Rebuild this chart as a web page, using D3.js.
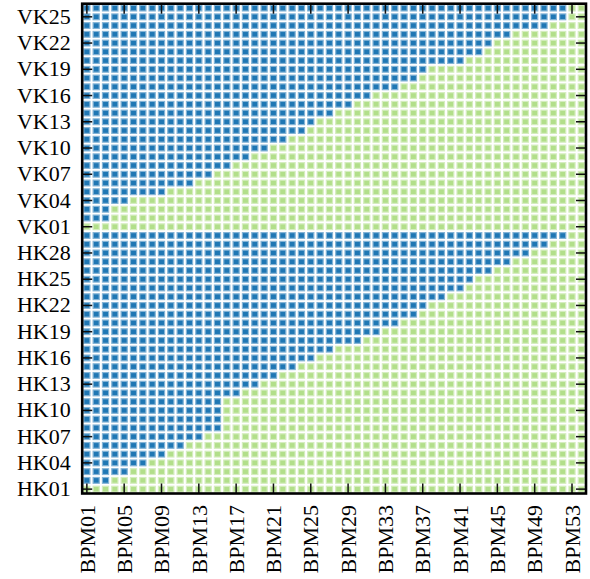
<!DOCTYPE html>
<html>
<head>
<meta charset="utf-8">
<script src="https://cdn.jsdelivr.net/npm/d3@7"></script>
<style>
  html, body { margin: 0; padding: 0; background: #fff; }
  svg { display: block; }
  text { font-family: "Liberation Serif", "Times New Roman", serif; }
</style>
</head>
<body>
<svg id="chart" width="590" height="579"></svg>
<script>
// BPM columns, BPM01 .. BPM54
const bpms = d3.range(1, 55).map(i => "BPM" + String(i).padStart(2, "0"));
// Horizontal and vertical correctors (rows, bottom to top)
const hCorrectors = d3.range(1, 31).map(i => "HK" + String(i).padStart(2, "0"));
const vCorrectors = d3.range(1, 27).map(i => "VK" + String(i).padStart(2, "0"));

// Number of BPMs (counted from BPM01) with zero response for each corrector
const hkZeroBpms = [0, 3, 5, 7, 9, 11, 13, 15, 15, 15,
                    15, 17, 19, 21, 23, 25, 27, 30, 32, 34,
                    36, 37, 39, 41, 42, 44, 46, 48, 50, 52];
const vkZeroBpms = [0, 3, 3, 5, 9, 12, 14, 16, 18, 20,
                    22, 24, 25, 27, 29, 31, 34, 36, 37, 41,
                    43, 44, 46, 50, 52, 52];

// Tick labels
const xTickLabels = bpms.filter((d, i) => i % 4 === 0);
const correctors = hCorrectors.concat(vCorrectors);
const yTickLabels = correctors.filter((d, i) => i % 3 === 0);

const colorZero = "#1f77b4";
const colorResp = "#b2df8a";

const svg = d3.select("#chart");
const plotLeft = 82.2, plotRight = 586, plotTop = 3.7, plotBottom = 493.5;
const tickLen = 10;

const x = d3.scaleBand().domain(bpms).range([plotLeft, plotRight]).padding(0);
const y = d3.scaleBand().domain(correctors).range([plotBottom, plotTop]).padding(0);

const zeroCount = new Map();
hCorrectors.forEach((k, i) => zeroCount.set(k, hkZeroBpms[i]));
vCorrectors.forEach((k, i) => zeroCount.set(k, vkZeroBpms[i]));

const cells = [];
correctors.forEach(k => {
  bpms.forEach((b, j) => {
    cells.push({ k, b, zero: j < zeroCount.get(k) });
  });
});

const bw = x.bandwidth(), bh = y.bandwidth();
const insetX = 1.6, insetY = 1.5;

svg.append("g")
  .selectAll("rect")
  .data(cells)
  .join("rect")
  .attr("x", d => x(d.b) + insetX)
  .attr("y", d => y(d.k) + insetY)
  .attr("width", bw - 2 * insetX)
  .attr("height", bh - 2 * insetY)
  .attr("fill", d => d.zero ? colorZero : colorResp)
  .attr("stroke", d => d3.interpolateRgb(d.zero ? colorZero : colorResp, "#ffffff")(0.45))
  .attr("stroke-width", 1.2);

// Axes with inward ticks on all four sides
const styleAxis = g => {
  g.select(".domain").remove();
  g.selectAll(".tick line").attr("stroke", "#111").attr("stroke-width", 1.5);
  g.selectAll(".tick text").attr("fill", "#000").style("font-size", "22px")
    .style("font-family", "'Liberation Serif', 'Times New Roman', serif");
};

const gBottom = svg.append("g")
  .attr("transform", `translate(0,${plotBottom})`)
  .call(d3.axisBottom(x).tickValues(xTickLabels).tickSizeInner(-tickLen).tickSizeOuter(0).tickPadding(11.5))
  .call(styleAxis);
gBottom.selectAll(".tick text")
  .attr("transform", "rotate(-90)")
  .attr("text-anchor", "end")
  .attr("x", -11.5)
  .attr("y", 0)
  .attr("dy", "0.35em");

svg.append("g")
  .attr("transform", `translate(0,${plotTop})`)
  .call(d3.axisTop(x).tickValues(xTickLabels).tickSizeInner(-tickLen).tickSizeOuter(0).tickFormat(""))
  .call(styleAxis);

svg.append("g")
  .attr("transform", `translate(${plotLeft},0)`)
  .call(d3.axisLeft(y).tickValues(yTickLabels).tickSizeInner(-tickLen).tickSizeOuter(0).tickPadding(11.5))
  .call(styleAxis);

svg.append("g")
  .attr("transform", `translate(${plotRight},0)`)
  .call(d3.axisRight(y).tickValues(yTickLabels).tickSizeInner(-tickLen).tickSizeOuter(0).tickFormat(""))
  .call(styleAxis);

// Plot frame
svg.append("rect")
  .attr("x", plotLeft).attr("y", plotTop)
  .attr("width", plotRight - plotLeft).attr("height", plotBottom - plotTop)
  .attr("fill", "none").attr("stroke", "#000").attr("stroke-width", 2.6);
</script>
</body>
</html>
